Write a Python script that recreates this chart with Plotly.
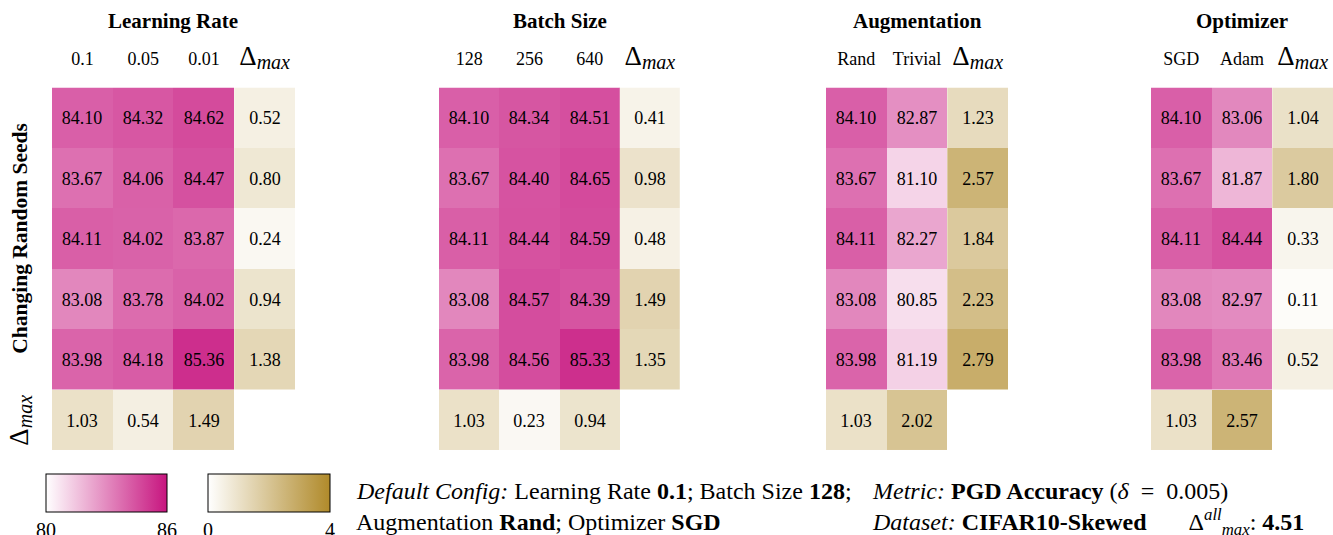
import plotly.graph_objects as go

W, H = 1333, 535

# ---------------- data ----------------
lr_labels = ["0.1", "0.05", "0.01"]
lr_vals = [[84.10, 84.32, 84.62], [83.67, 84.06, 84.47], [84.11, 84.02, 83.87],
           [83.08, 83.78, 84.02], [83.98, 84.18, 85.36]]
lr_row_delta = [0.52, 0.80, 0.24, 0.94, 1.38]
lr_col_delta = [1.03, 0.54, 1.49]

bs_labels = ["128", "256", "640"]
bs_vals = [[84.10, 84.34, 84.51], [83.67, 84.40, 84.65], [84.11, 84.44, 84.59],
           [83.08, 84.57, 84.39], [83.98, 84.56, 85.33]]
bs_row_delta = [0.41, 0.98, 0.48, 1.49, 1.35]
bs_col_delta = [1.03, 0.23, 0.94]

aug_labels = ["Rand", "Trivial"]
aug_vals = [[84.10, 82.87], [83.67, 81.10], [84.11, 82.27], [83.08, 80.85], [83.98, 81.19]]
aug_row_delta = [1.23, 2.57, 1.84, 2.23, 2.79]
aug_col_delta = [1.03, 2.02]

opt_labels = ["SGD", "Adam"]
opt_vals = [[84.10, 83.06], [83.67, 81.87], [84.11, 84.44], [83.08, 82.97], [83.98, 83.46]]
opt_row_delta = [1.04, 1.80, 0.33, 0.11, 0.52]
opt_col_delta = [1.03, 2.57]

titles = ["Learning Rate", "Batch Size", "Augmentation", "Optimizer"]
DELTA = "<span style='font-size:27px'>Δ</span><sub><span style='font-size:20px'><i>max</i></span></sub>"

panels = [
    (titles[0], lr_labels, lr_vals, lr_row_delta, lr_col_delta, 52, 295),
    (titles[1], bs_labels, bs_vals, bs_row_delta, bs_col_delta, 439, 680),
    (titles[2], aug_labels, aug_vals, aug_row_delta, aug_col_delta, 826, 1008),
    (titles[3], opt_labels, opt_vals, opt_row_delta, opt_col_delta, 1151, 1333),
]

PINK = [[0, "#ffffff"], [1, "#c7157f"]]
GOLD = [[0, "#ffffff"], [1, "#b08a2a"]]
FONT = "Liberation Serif"

top_px, bot_px = 88, 453
ydom = [1 - bot_px / H, 1 - top_px / H]

fig = go.Figure()
annotations = []
for i, (title, labels, vals, rdelta, cdelta, x0, x1) in enumerate(panels):
    k = len(labels)
    ax = "" if i == 0 else str(i + 1)
    xa, ya = "x" + ax, "y" + ax
    rows = list(range(len(vals)))
    cols = list(range(k))
    fig.add_trace(go.Heatmap(
        z=vals, x=cols, y=rows, xaxis=xa, yaxis=ya,
        colorscale=PINK, zmin=80, zmax=86,
        texttemplate="%{z:.2f}", textfont=dict(size=18, color="black", family=FONT),
        hoverinfo="skip",
        showscale=(i == 0),
        colorbar=dict(orientation="h", x=106.5 / W, xanchor="center", y=1 - 477 / H, yanchor="top",
                      len=121, lenmode="pixels", thickness=38, xpad=0, ypad=0,
                      outlinewidth=1, outlinecolor="black", tickvals=[80, 86], ticks="",
                      tickfont=dict(size=20, family=FONT, color="black")),
    ))
    fig.add_trace(go.Heatmap(
        z=[[v] for v in rdelta], x=[k], y=rows, xaxis=xa, yaxis=ya,
        colorscale=GOLD, zmin=0, zmax=4,
        texttemplate="%{z:.2f}", textfont=dict(size=18, color="black", family=FONT),
        hoverinfo="skip",
        showscale=(i == 0),
        colorbar=dict(orientation="h", x=269 / W, xanchor="center", y=1 - 477 / H, yanchor="top",
                      len=122, lenmode="pixels", thickness=38, xpad=0, ypad=0,
                      outlinewidth=1, outlinecolor="black", tickvals=[0, 4], ticks="",
                      tickfont=dict(size=20, family=FONT, color="black")),
    ))
    fig.add_trace(go.Heatmap(
        z=[cdelta], x=cols, y=[len(vals)], xaxis=xa, yaxis=ya,
        colorscale=GOLD, zmin=0, zmax=4,
        texttemplate="%{z:.2f}", textfont=dict(size=18, color="black", family=FONT),
        hoverinfo="skip", showscale=False,
    ))
    fig.update_layout({
        "xaxis" + ax: dict(domain=[x0 / W, x1 / W], range=[-0.5, k + 0.5], side="top",
                           tickvals=list(range(k + 1)), ticktext=labels + [DELTA],
                           ticks="", showgrid=False, zeroline=False, showline=False,
                           ticklabelstandoff=18,
                           tickfont=dict(size=18, family=FONT, color="black"),
                           anchor=ya, fixedrange=True),
        "yaxis" + ax: dict(domain=ydom, range=[len(vals) + 0.5, -0.5],
                           showticklabels=False, ticks="", showgrid=False, zeroline=False,
                           showline=False, anchor=xa, fixedrange=True),
    })
    annotations.append(dict(text="<b>" + title + "</b>", x=(x0 + x1) / 2 / W, y=1 - 21 / H,
                            xref="paper", yref="paper", xanchor="center", yanchor="middle",
                            showarrow=False,
                            font=dict(size=21, family=FONT, color="black")))

annotations.append(dict(text="<b>Changing Random Seeds</b>", x=20 / W, y=1 - 240 / H,
                        xref="paper", yref="paper", xanchor="center", yanchor="middle",
                        showarrow=False, textangle=-90,
                        font=dict(size=21.5, family=FONT, color="black")))
annotations.append(dict(text=DELTA, x=20 / W, y=1 - 423 / H,
                        xref="paper", yref="paper", xanchor="center", yanchor="middle",
                        showarrow=False, textangle=-90,
                        font=dict(size=18, family=FONT, color="black")))

foot = [
    ("<i>Default Config:</i> Learning Rate <b>0.1</b>; Batch Size <b>128</b>;", 354, 494),
    ("Augmentation <b>Rand</b>; Optimizer <b>SGD</b>", 354, 525),
    ("<i>Metric:</i> <b>PGD Accuracy</b> (<i>δ</i>  =  0.005)", 870, 494),
    ("<i>Dataset:</i> <b>CIFAR10-Skewed</b>       Δ<sup><i>all</i></sup><sub><i>max</i></sub>: <b>4.51</b>", 870, 525),
]
for t, x, y in foot:
    annotations.append(dict(text=t, x=x / W, y=1 - y / H, xref="paper", yref="paper",
                            xanchor="left", yanchor="middle", showarrow=False,
                            font=dict(size=24, family=FONT, color="black")))

fig.update_layout(width=W, height=H, margin=dict(l=0, r=0, t=0, b=0),
                  paper_bgcolor="white", plot_bgcolor="white",
                  annotations=annotations, showlegend=False)

fig.write_html("out.html", config={"displayModeBar": False},
               post_script="document.body.style.margin='0';")
